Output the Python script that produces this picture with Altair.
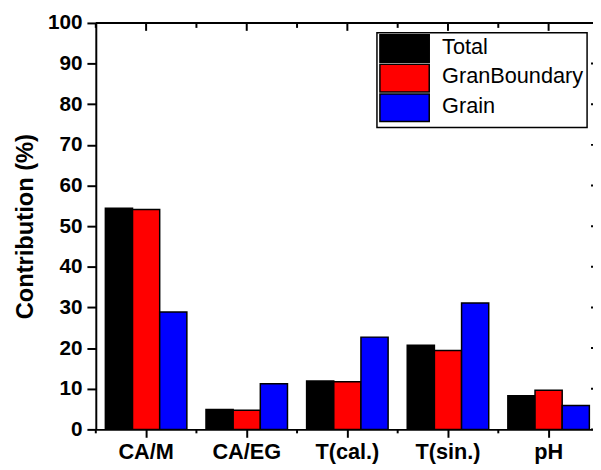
import altair as alt
import pandas as pd

categories = ["CA/M", "CA/EG", "T(cal.)", "T(sin.)", "pH"]
series = ["Total", "GranBoundary", "Grain"]
total = [54.4, 4.9, 11.9, 20.7, 8.3]
gran_boundary = [54.1, 4.7, 11.7, 19.4, 9.6]
grain = [28.9, 11.2, 22.7, 31.1, 5.9]
y_ticks = list(range(0, 101, 10))
colors = ["#000000", "#ff0000", "#0000ff"]

rows = []
for s, vals in zip(series, [total, gran_boundary, grain]):
    for c, v in zip(categories, vals):
        rows.append({"cat": c, "series": s, "value": v})
df = pd.DataFrame(rows)
cat_df = pd.DataFrame({"cat": categories})
tick_df = pd.DataFrame({"value": y_ticks})

W, H = 504, 412          # visible plot area (window cuts the right frame)
FULL_W = 510             # full extent of the category axis
FONT = "Liberation Sans"
P_IN, P_OUT = 0.19, 0.095
STEP = FULL_W / (len(categories) - P_IN + 2 * P_OUT)
HALF_GAP = P_IN * STEP / 2  # distance from band start back to the category boundary

xscale = alt.Scale(domain=categories, range=[0, FULL_W], paddingInner=P_IN, paddingOuter=P_OUT)
yscale = alt.Scale(domain=[0, 100], nice=False)

xaxis = alt.Axis(
    title=None, labelAngle=0, labelFont=FONT, labelFontSize=22,
    labelFontWeight="bold", labelColor="black", tickSize=8, tickWidth=2,
    tickColor="black", domainColor="black", domainWidth=2, labelPadding=5,
)
yaxis = alt.Axis(
    values=y_ticks, title="Contribution (%)", titleFont=FONT,
    titleFontSize=24, titleFontWeight="bold", titleColor="black",
    titlePadding=10, labelFont=FONT, labelFontSize=21,
    labelFontWeight="bold", labelColor="black", labelPadding=5,
    tickSize=9, tickWidth=2, tickColor="black", domainColor="black",
    domainWidth=2, grid=False,
)

SYM_R = 20  # legend symbol scale (sqrt of symbol size)
bars = alt.Chart(df).mark_bar(stroke="black", strokeWidth=1.5).encode(
    x=alt.X("cat:N", scale=xscale, sort=categories, axis=xaxis),
    xOffset=alt.XOffset(
        "series:N", sort=series,
        scale=alt.Scale(domain=series, paddingInner=0, paddingOuter=0),
    ),
    y=alt.Y("value:Q", scale=yscale, axis=yaxis),
    color=alt.Color(
        "series:N",
        scale=alt.Scale(domain=series, range=colors),
        legend=alt.Legend(
            title=None, orient="none", legendX=285, legendY=10,
            symbolType="M-1.1,-1.2H3.9V1.6H-1.1Z", symbolSize=SYM_R * SYM_R,
            symbolStrokeColor="black", symbolStrokeWidth=1.5, symbolOpacity=1,
            labelOffset=41,
            labelFont=FONT, labelFontSize=22, labelColor="black",
            labelLimit=0, rowPadding=-5.5,
            strokeColor="black", padding=3, fillColor="white",
        ),
    ),
)

bottom_minor = alt.Chart(cat_df).mark_rule(
    color="black", strokeWidth=2, xOffset=-HALF_GAP
).encode(
    x=alt.X("cat:N", scale=xscale, sort=categories, bandPosition=0, axis=xaxis),
    y=alt.value(H), y2=alt.value(H + 4),
)
top_major = alt.Chart(cat_df).mark_rule(color="black", strokeWidth=2).encode(
    x=alt.X("cat:N", scale=xscale, sort=categories, axis=xaxis),
    y=alt.value(0), y2=alt.value(8),
)
top_minor = alt.Chart(cat_df).mark_rule(
    color="black", strokeWidth=2, xOffset=-HALF_GAP
).encode(
    x=alt.X("cat:N", scale=xscale, sort=categories, bandPosition=0, axis=xaxis),
    y=alt.value(0), y2=alt.value(5),
)
top_frame = alt.Chart(cat_df.head(1)).mark_rule(color="black", strokeWidth=2).encode(
    y=alt.value(0), x=alt.value(0), x2=alt.value(W),
)
right_ticks = alt.Chart(tick_df).mark_rule(color="black", strokeWidth=2).encode(
    y=alt.Y("value:Q", scale=yscale, axis=yaxis),
    x=alt.value(FULL_W - 8), x2=alt.value(W),
)

chart = alt.layer(
    bars, bottom_minor, top_major, top_minor, top_frame, right_ticks
).properties(
    width=W, height=H,
    autosize=alt.AutoSizeParams(type="none"),
    padding={"left": 89, "top": 12, "right": 0, "bottom": 36},
).configure_view(stroke=None).configure_legend(strokeWidth=1.5)

chart.save("out.html", embed_options={"renderer": "svg", "actions": False})
